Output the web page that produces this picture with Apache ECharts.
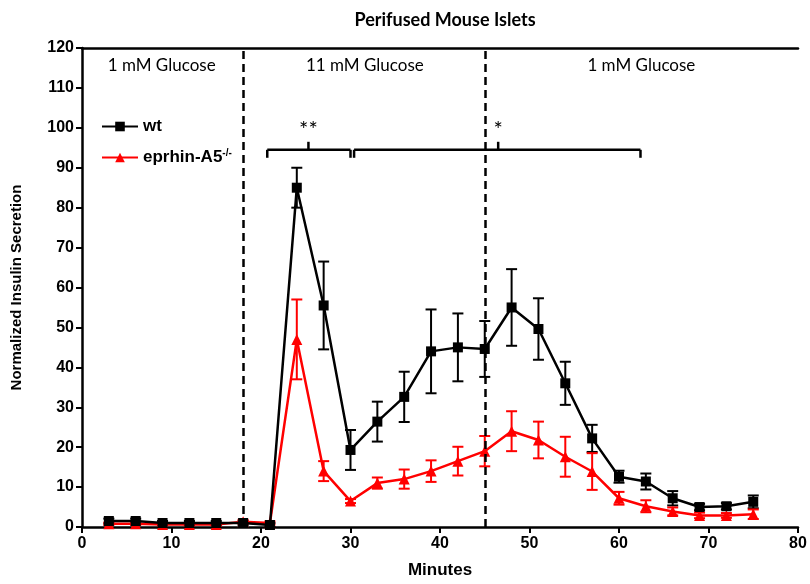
<!DOCTYPE html>
<html>
<head>
<meta charset="utf-8">
<script src="https://cdn.jsdelivr.net/npm/echarts@6/dist/echarts.min.js"></script>
<style>
  html, body { margin: 0; padding: 0; background: #fff; }
  #chart { width: 810px; height: 584px; }
</style>
</head>
<body>
<div id="chart"></div>
<script>
// time points (minutes)
const minutes = [3, 6, 9, 12, 15, 18, 21, 24, 27, 30, 33, 36, 39, 42, 45, 48, 51, 54, 57, 60, 63, 66, 69, 72, 75];

// wt mean / SEM
const wtMean = [1.5, 1.5, 1, 1, 1, 1, 0.5, 85, 55.5, 19.3, 26.4, 32.6, 44, 45, 44.6, 55, 49.6, 36, 22.2, 12.6, 11.4, 7.2, 5, 5.2, 6.3];
const wtErr  = [0.6, 0.6, 0.5, 0.5, 0.5, 0.5, 0.5, 5, 11, 5, 5, 6.3, 10.5, 8.5, 7, 9.6, 7.7, 5.4, 3.4, 1.5, 2, 1.8, 0.8, 0.8, 1.6];

// eprhin-A5-/- mean / SEM
const koMean = [0.8, 0.8, 0.6, 0.6, 0.6, 1.3, 1, 47, 14, 6.5, 11, 12, 14, 16.5, 19, 24, 21.8, 17.6, 13.9, 7.2, 5.2, 3.9, 2.9, 2.9, 3.2];
const koErr  = [0.3, 0.3, 0.3, 0.3, 0.3, 0.5, 0.4, 10, 2.5, 0.5, 1.4, 2.4, 2.7, 3.6, 3.8, 5, 4.6, 5, 4.6, 1.6, 1.5, 1, 0.7, 0.6, 1.2];

// condition boundaries and labels
const switchTimes = [18, 45];
const glucoseLabels = ['1 mM Glucose', '11 mM Glucose', '1 mM Glucose'];
const glucoseLabelX = [8.9, 31.6, 62.5];
const glucoseLabelY = 115.5;

// significance brackets
const bracketStart = [20.7, 30.4];
const bracketEnd = [30.0, 62.4];
const bracketMid = [25.3, 46.5];
const bracketY = 94.5;
const bracketStars = ['**', '*'];
const starY = 99.6;

const boldFont = "'Liberation Sans', Arial, sans-serif";
const lightFont = "Lato, 'Open Sans', sans-serif";

function errData(mean, err) {
  return minutes.map((m, i) => [m, mean[i] - err[i], mean[i] + err[i]]);
}

function errRender(color) {
  return function (params, api) {
    const top = api.coord([api.value(0), api.value(2)]);
    const bot = api.coord([api.value(0), api.value(1)]);
    const cap = 5.5;
    const style = { stroke: color, lineWidth: 2 };
    return {
      type: 'group',
      children: [
        { type: 'line', shape: { x1: top[0], y1: top[1], x2: bot[0], y2: bot[1] }, style },
        { type: 'line', shape: { x1: top[0] - cap, y1: top[1], x2: top[0] + cap, y2: top[1] }, style },
        { type: 'line', shape: { x1: bot[0] - cap, y1: bot[1], x2: bot[0] + cap, y2: bot[1] }, style }
      ]
    };
  };
}

const chart = echarts.init(document.getElementById('chart'));

const option = {
  animation: false,
  title: {
    text: 'Perifused Mouse Islets',
    left: 440,
    textAlign: 'center',
    top: 6,
    textStyle: { fontFamily: lightFont, fontWeight: 'bold', fontSize: 18, color: '#000' }
  },
  grid: { left: 82, right: 12, top: 48, bottom: 57, containLabel: false },
  legend: {
    orient: 'vertical',
    left: 96,
    top: 113,
    itemWidth: 36,
    itemHeight: 12,
    itemGap: 13,
    data: ['wt', 'eprhin-A5'],
    formatter: function (name) {
      return name === 'eprhin-A5' ? 'eprhin-A5{sup|-/-}' : name;
    },
    textStyle: {
      fontFamily: boldFont, fontWeight: 'bold', fontSize: 17, color: '#000',
      rich: { sup: { fontFamily: boldFont, fontSize: 10, fontWeight: 'bold', padding: [0, 0, 9, 0] } }
    }
  },
  xAxis: [
    {
      type: 'value', min: 0, max: 80, interval: 10,
      name: 'Minutes', nameLocation: 'middle', nameGap: 35,
      nameTextStyle: { fontFamily: boldFont, fontWeight: 'bold', fontSize: 17, color: '#000' },
      axisLine: { lineStyle: { color: '#000', width: 2.5 } },
      axisTick: { length: 6, lineStyle: { color: '#000', width: 2 } },
      axisLabel: { fontFamily: boldFont, fontWeight: 'bold', fontSize: 16, color: '#000', margin: 9 },
      splitLine: { show: false }
    },
    {
      type: 'value', min: 0, max: 80, position: 'top',
      axisLine: { show: true, lineStyle: { color: '#000', width: 2.5 } },
      axisTick: { show: false }, axisLabel: { show: false }, splitLine: { show: false }
    }
  ],
  yAxis: {
    type: 'value', min: 0, max: 120, interval: 10,
    name: 'Normalized Insulin Secretion', nameLocation: 'middle', nameGap: 58,
    nameTextStyle: { fontFamily: boldFont, fontWeight: 'bold', fontSize: 15, color: '#000' },
    axisLine: { show: true, lineStyle: { color: '#000', width: 2.5 } },
    axisTick: { show: true, length: 6, lineStyle: { color: '#000', width: 2 } },
    axisLabel: { fontFamily: boldFont, fontWeight: 'bold', fontSize: 16, color: '#000', margin: 8 },
    splitLine: { show: false }
  },
  series: [
    {
      type: 'custom', name: 'wtErr', xAxisIndex: 0, z: 2,
      renderItem: errRender('#000'), data: errData(wtMean, wtErr), silent: true
    },
    {
      type: 'custom', name: 'koErr', xAxisIndex: 0, z: 2,
      renderItem: errRender('#ff0000'), data: errData(koMean, koErr), silent: true
    },
    {
      name: 'wt', type: 'line', xAxisIndex: 0, z: 4,
      data: minutes.map((m, i) => [m, wtMean[i]]),
      symbol: 'rect', symbolSize: 10,
      itemStyle: { color: '#000' },
      lineStyle: { color: '#000', width: 2.5 },
      markLine: {
        silent: true, symbol: 'none', label: { show: false },
        lineStyle: { color: '#000', type: [8, 5], width: 2.5 },
        data: switchTimes.map(t => ({ xAxis: t }))
      }
    },
    {
      name: 'eprhin-A5', type: 'line', xAxisIndex: 0, z: 3,
      data: minutes.map((m, i) => [m, koMean[i]]),
      symbol: 'triangle', symbolSize: 11,
      itemStyle: { color: '#ff0000' },
      lineStyle: { color: '#ff0000', width: 2.5 }
    },
    {
      type: 'custom', name: 'brackets', xAxisIndex: 0, silent: true,
      data: bracketStart.map((s, i) => [s, bracketEnd[i], bracketMid[i], bracketY]),
      renderItem: function (params, api) {
        const a = api.coord([api.value(0), api.value(3)]);
        const b = api.coord([api.value(1), api.value(3)]);
        const m = api.coord([api.value(2), api.value(3)]);
        const style = { stroke: '#000', lineWidth: 2.5 };
        return {
          type: 'group',
          children: [
            { type: 'line', shape: { x1: a[0], y1: a[1], x2: b[0], y2: b[1] }, style },
            { type: 'line', shape: { x1: a[0], y1: a[1], x2: a[0], y2: a[1] + 8 }, style },
            { type: 'line', shape: { x1: b[0], y1: b[1], x2: b[0], y2: b[1] + 8 }, style },
            { type: 'line', shape: { x1: m[0], y1: m[1], x2: m[0], y2: m[1] - 8 }, style }
          ]
        };
      }
    },
    {
      type: 'custom', name: 'stars', xAxisIndex: 0, silent: true,
      data: bracketMid.map((x, i) => [x, starY, i]),
      renderItem: function (params, api) {
        const p = api.coord([api.value(0), api.value(1)]);
        return {
          type: 'text', x: p[0], y: p[1],
          style: {
            text: bracketStars[api.value(2)], fill: '#000',
            font: '22px ' + lightFont, align: 'center', verticalAlign: 'middle'
          }
        };
      }
    },
    {
      type: 'custom', name: 'glucose', xAxisIndex: 0, silent: true,
      data: glucoseLabelX.map((x, i) => [x, glucoseLabelY, i]),
      renderItem: function (params, api) {
        const p = api.coord([api.value(0), api.value(1)]);
        return {
          type: 'text', x: p[0], y: p[1],
          style: {
            text: glucoseLabels[api.value(2)], fill: '#000',
            font: '17px ' + lightFont, align: 'center', verticalAlign: 'middle'
          }
        };
      }
    }
  ]
};

chart.setOption(option);
</script>
</body>
</html>
